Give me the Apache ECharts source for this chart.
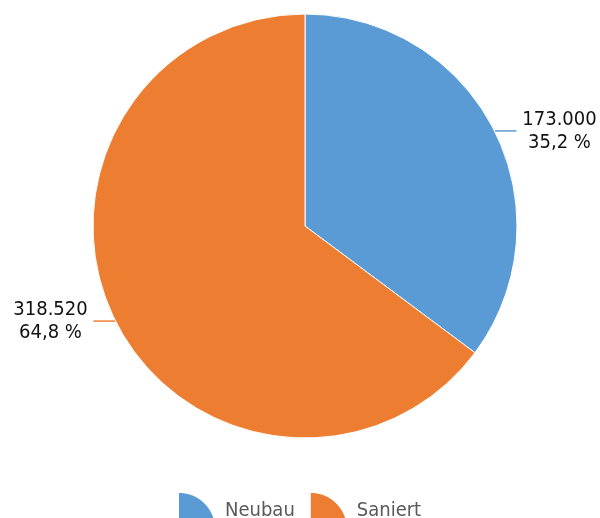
<!DOCTYPE html>
<html>
<head>
<meta charset="utf-8">
<script src="https://cdn.jsdelivr.net/npm/echarts@6/dist/echarts.min.js"></script>
<style>
  html, body { margin: 0; padding: 0; background: #fff; }
  #chart { width: 600px; height: 518px; }
</style>
</head>
<body>
<div id="chart"></div>
<script>
  // data
  var categories = ['Neubau', 'Saniert']
  var values = [173000, 318520]
  var colors = ['#5B9BD5', '#ED7D31']

  var fontName = '"DejaVu Sans Condensed", "DejaVu Sans", sans-serif'

  function fmtNum (v) {
    return String(v).replace(/\B(?=(\d{3})+(?!\d))/g, '.')
  }

  var total = values.reduce(function (a, b) { return a + b }, 0)
  var pieData = categories.map(function (c, i) {
    return { name: c, value: values[i] }
  })

  var chart = echarts.init(document.getElementById('chart'))
  var option = {
    color: colors,
    textStyle: { fontFamily: fontName },
    legend: {
      data: categories,
      top: 493,
      left: 179,
      padding: 0,
      itemWidth: 36,
      itemHeight: 36,
      itemGap: 16,
      icon: 'path://M0,0 C20,0 36,16 36,36 L0,36 Z',
      itemStyle: { borderWidth: 0 },
      textStyle: { fontSize: 20, color: '#595959', fontFamily: fontName, padding: [0, 0, 9, 5] }
    },
    series: [
      {
        type: 'pie',
        center: [305, 226],
        radius: 212,
        startAngle: 90,
        clockwise: true,
        avoidLabelOverlap: false,
        itemStyle: { borderColor: '#fff', borderWidth: 1 },
        label: {
          show: true,
          position: 'outside',
          color: '#111',
          fontFamily: fontName,
          formatter: function (p) {
            var pct = (p.value / total * 100).toFixed(1).replace('.', ',')
            return '{t|' + fmtNum(p.value) + '}\n{t|' + pct + ' %}'
          },
          rich: {
            t: { fontSize: 20, lineHeight: 23, width: 76, align: 'center', color: '#111', fontFamily: fontName }
          }
        },
        labelLine: {
          show: true,
          length: 0,
          length2: 22,
          smooth: false,
          lineStyle: { width: 1.5 }
        },
        emphasis: { disabled: true },
        data: pieData
      }
    ]
  }
  chart.setOption(option)
</script>
</body>
</html>
